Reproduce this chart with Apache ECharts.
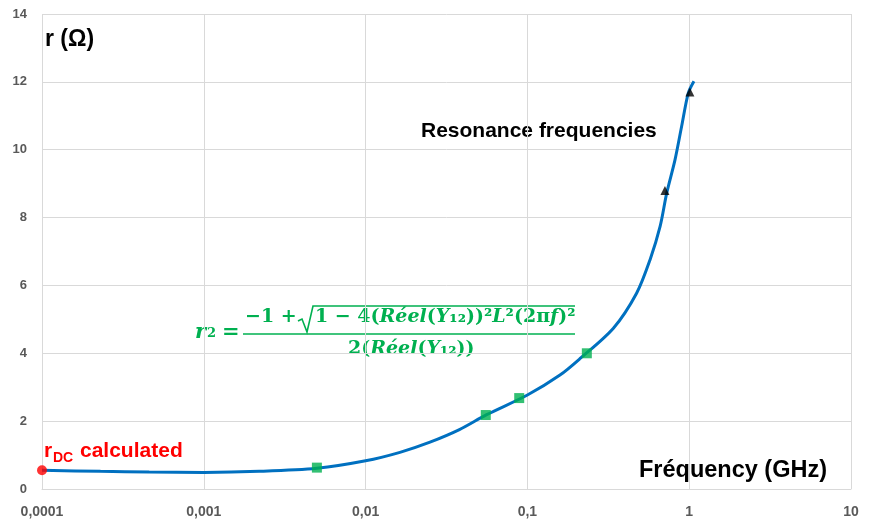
<!DOCTYPE html>
<html>
<head>
<meta charset="utf-8">
<script src="https://cdn.jsdelivr.net/npm/echarts@6/dist/echarts.min.js"></script>
<style>html,body{margin:0;padding:0;background:#fff}#c{width:871px;height:523px}</style>
</head>
<body>
<div id="c"></div>
<script>
// Data
var curveFreq = [0.0001, 0.00023, 0.00046, 0.001, 0.0022, 0.005, 0.01, 0.0163, 0.025, 0.038, 0.056, 0.1, 0.159, 0.211, 0.34, 0.473, 0.573, 0.661, 0.726, 0.817, 0.898, 0.987, 1.07];
var curveR    = [0.55, 0.52, 0.50, 0.49, 0.52, 0.61, 0.83, 1.08, 1.38, 1.75, 2.19, 2.77, 3.36, 3.84, 4.74, 5.77, 6.76, 7.74, 8.72, 9.7, 10.69, 11.67, 12.02];
var measFreq = [0.005, 0.0553, 0.089, 0.233];
var measR    = [0.63, 2.18, 2.68, 4.0];
var resFreq = [0.708, 1.01];
var resR    = [8.8, 11.7];
var dcFreq = [0.0001];
var dcR    = [0.55];
var yTicks = [0, 2, 4, 6, 8, 10, 12, 14];

function pairs(a, b) { return a.map(function (v, i) { return [v, b[i]]; }); }

var chart = echarts.init(document.getElementById('c'));
var sans = 'Liberation Sans, Arial, sans-serif';
var lab = { color: '#595959', fontWeight: 'bold', fontSize: 14, fontFamily: sans };
var green = '#00b050';
var mathFont = 'DejaVu Serif, serif';
var fs = 19;
var mN = { fontSize: fs, fontWeight: 'bold', fontFamily: mathFont, fill: green };
var mI = { fontSize: fs, fontWeight: 'bold', fontStyle: 'italic', fontFamily: mathFont, fill: green };
chart.setOption({
  animation: false,
  backgroundColor: '#fff',
  grid: { left: 42, right: 20, top: 14, bottom: 34, containLabel: false },
  xAxis: {
    type: 'log', logBase: 10, min: 0.0001, max: 10,
    axisLine: { show: true, lineStyle: { color: '#d9d9d9', width: 1 } },
    axisTick: { show: false },
    minorTick: { show: false }, minorSplitLine: { show: false },
    splitLine: { show: true, showMinLine: true, showMaxLine: true, lineStyle: { color: '#d9d9d9', width: 1 } },
    axisLabel: Object.assign({ margin: 16, formatter: function (v) {
      var s = String(Number(v.toPrecision(6)));
      if (v < 0.001) s = '0.0001';
      return s.replace('.', ',');
    } }, lab)
  },
  yAxis: {
    type: 'value', min: yTicks[0], max: yTicks[yTicks.length - 1], interval: 2,
    axisLine: { show: false }, axisTick: { show: false },
    splitLine: { show: true, showMinLine: true, showMaxLine: true, lineStyle: { color: '#d9d9d9', width: 1 } },
    axisLabel: Object.assign({ margin: 15 }, lab, { fontSize: 13 })
  },
  series: [
    { type: 'line', data: pairs(curveFreq, curveR), smooth: 0.3, showSymbol: false, symbol: 'none',
      lineStyle: { color: '#0070c0', width: 3 }, z: 2 },
    { type: 'scatter', data: pairs(measFreq, measR), symbol: 'rect', symbolSize: 10, itemStyle: { color: green }, z: 3 },
    { type: 'scatter', data: pairs(resFreq, resR), symbol: 'triangle', symbolSize: 9, itemStyle: { color: '#000' }, z: 3 },
    { type: 'scatter', data: pairs(dcFreq, dcR), symbol: 'circle', symbolSize: 10, clip: false, itemStyle: { color: '#ff0000' }, z: 4 }
  ],
  graphic: [
    { type: 'text', left: 45, top: 28, style: { text: 'r (Ω)', fontSize: 23, fontWeight: 'bold', fontFamily: sans, fill: '#000' } },
    { type: 'text', left: 421, top: 121, style: { text: 'Resonance frequencies', fontSize: 21, fontWeight: 'bold', fontFamily: sans, fill: '#000' } },
    { type: 'text', left: 639, top: 459, style: { text: 'Fréquency (GHz)', fontSize: 23.5, fontWeight: 'bold', fontFamily: sans, fill: '#000' } },
    { type: 'text', left: 44, top: 441, style: { text: 'r', fontSize: 21, fontWeight: 'bold', fontFamily: sans, fill: '#ff0000' } },
    { type: 'text', left: 53, top: 451, style: { text: 'DC', fontSize: 14, fontWeight: 'bold', fontFamily: sans, fill: '#ff0000' } },
    { type: 'text', left: 80, top: 441, style: { text: 'calculated', fontSize: 21, fontWeight: 'bold', fontFamily: sans, fill: '#ff0000' } },
    // formula
    { type: 'text', left: 195, top: 322, style: Object.assign({ text: 'r' }, mI, { fontSize: 21 }) },
    { type: 'text', left: 207, top: 327, style: Object.assign({ text: '2' }, mN, { fontSize: 13 }) },
    { type: 'text', left: 222, top: 322, style: Object.assign({ text: '=' }, mN, { fontSize: 21 }) },
    { type: 'text', left: 245, top: 308, style: Object.assign({ text: '−1 +' }, mN) },
    { type: 'polyline', shape: { points: [[298, 321], [302, 319], [307, 332], [313, 306], [575, 306]] },
      style: { stroke: green, lineWidth: 1.6, fill: null } },
    { type: 'text', left: 315, top: 308, style: {
      text: '{n|1 − 4(}{i|Réel}{n|(}{i|Y}{n|₁₂))²}{i|L}{n|²(2π}{i|f}{n|)²}',
      rich: { n: mN, i: mI } } },
    { type: 'line', shape: { x1: 243, y1: 334, x2: 575, y2: 334 }, style: { stroke: green, lineWidth: 1.6 } },
    { type: 'text', left: 348, top: 340, style: {
      text: '{n|2(}{i|Réel}{n|(}{i|Y}{n|₁₂))}',
      rich: { n: mN, i: mI } } }
  ]
});
</script>
</body>
</html>
